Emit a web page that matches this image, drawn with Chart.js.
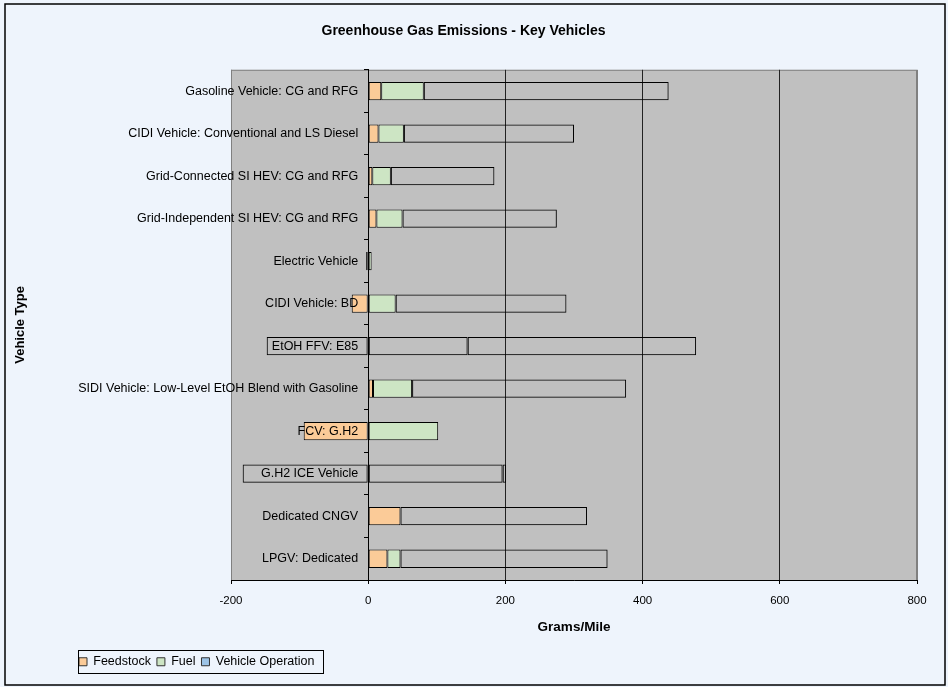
<!DOCTYPE html>
<html>
<head>
<meta charset="utf-8">
<script src="https://cdn.jsdelivr.net/npm/chart.js@4.4.0/dist/chart.umd.min.js"></script>
<style>
	html, body { margin: 0; padding: 0; background: #EEF4FC; }
	#wrap { width: 948px; height: 687px; }
</style>
</head>
<body>
<div id="wrap"><canvas id="ghgBar"></canvas></div>
<script>
// values, grams/mile
const vehicles = [
	"Gasoline Vehicle: CG and RFG",
	"CIDI Vehicle: Conventional and LS Diesel",
	"Grid-Connected SI HEV: CG and RFG",
	"Grid-Independent SI HEV: CG and RFG",
	"Electric Vehicle",
	"CIDI Vehicle: BD",
	"EtOH FFV: E85",
	"SIDI Vehicle: Low-Level EtOH Blend with Gasoline",
	"FCV: G.H2",
	"G.H2 ICE Vehicle",
	"Dedicated CNGV",
	"LPGV: Dedicated"
];
const feedstock = [19, 15, 6, 12, -3, -24, -148, 7, -94, -183, 47, 28];
const fuel = [62, 37, 27, 38, 5, 40, 145, 57, 102, 196, 0, 19];
const vehicleOperation = [357, 248, 151, 225, 0, 249, 333, 312, 0, 5, 272, 302];
// these two rows have no fill in the original
const unfilled = ["EtOH FFV: E85", "G.H2 ICE Vehicle"];
const xMin = -200, xMax = 800, xStep = 200;

const font = "'Liberation Sans', Arial, sans-serif";
const fillFor = (color) => vehicles.map(v => unfilled.includes(v) ? 'rgba(0,0,0,0)' : color);

const frame = {
	id: 'frame',
	beforeDraw(chart) {
		const {ctx, chartArea: a} = chart;
		ctx.save();
		ctx.fillStyle = '#EEF4FC';
		ctx.fillRect(0, 0, chart.width, chart.height);
		ctx.fillStyle = '#C0C0C0';
		ctx.fillRect(a.left, a.top, a.right - a.left, a.bottom - a.top);
		ctx.strokeStyle = '#808080';
		ctx.lineWidth = 1;
		ctx.strokeRect(a.left + 0.5, a.top + 0.5, a.right - a.left - 1, a.bottom - a.top);
		ctx.strokeStyle = '#000';
		ctx.lineWidth = 1.5;
		ctx.strokeRect(5, 4, chart.width - 8, chart.height - 6);
		ctx.restore();
	},
	afterLayout(chart) {
		chart.legend.left = 73;
	},
	afterDatasetsDraw(chart) {
		// category names sit left of the zero line, over the bars
		const {ctx} = chart;
		const y = chart.scales.y;
		const x0 = chart.scales.x.getPixelForValue(0) - 10;
		ctx.save();
		ctx.font = '12.5px ' + font;
		ctx.fillStyle = '#000';
		ctx.textAlign = 'right';
		ctx.textBaseline = 'middle';
		y.ticks.forEach((t, i) => ctx.fillText(y.getLabelForValue(t.value), x0, y.getPixelForTick(i)));
		ctx.restore();
	},
	afterDraw(chart) {
		const lg = chart.legend;
		const {ctx} = chart;
		ctx.save();
		ctx.strokeStyle = '#000';
		ctx.lineWidth = 1;
		ctx.strokeRect(Math.round(lg.left + 5) + 0.5, Math.round(lg.top) + 0.5, Math.round(lg.lineWidths[0] + 4), 23);
		ctx.restore();
	}
};

new Chart(document.getElementById("ghgBar"), {
	type: 'bar',
	data: {
		labels: vehicles,
		datasets: [{
			label: "Feedstock",
			data: feedstock,
			backgroundColor: fillFor('#FBCB98'),
			xAxisID: 'x', yAxisID: 'y'
		}, {
			label: "Fuel",
			data: fuel,
			backgroundColor: fillFor('#CDE5C4'),
			xAxisID: 'x', yAxisID: 'y'
		}, {
			label: "Vehicle Operation",
			data: vehicleOperation,
			backgroundColor: 'rgba(0,0,0,0)',
			xAxisID: 'x', yAxisID: 'y'
		}]
	},
	options: {
		indexAxis: 'y',
		responsive: true,
		maintainAspectRatio: false,
		animation: false,
		datasets: {
			bar: {
				borderColor: '#000',
				borderWidth: 1,
				borderSkipped: false,
				categoryPercentage: 1,
				barPercentage: 0.43
			}
		},
		layout: { padding: { left: 10, right: 31, top: 0, bottom: 9 } },
		scales: {
			x: {
				type: 'linear',
				position: 'bottom',
				stacked: true,
				min: xMin,
				max: xMax,
				ticks: { stepSize: xStep, color: '#000', padding: 9.5, font: { family: font, size: 11.5 } },
				grid: {
					color: c => (c.tick && (c.tick.value === xMin || c.tick.value === xMax)) ? '#808080' : '#222',
					tickColor: '#000',
					tickLength: 4
				},
				border: { color: '#000' },
				title: {
					display: true, text: 'Grams/Mile', color: '#000',
					font: { family: font, size: 13.5, weight: 'bold' },
					padding: { top: 2.5, bottom: 14 }
				}
			},
			y: {
				type: 'category',
				position: { x: 0 },
				stacked: true,
				ticks: { display: false },
				grid: { drawOnChartArea: false, color: '#000', tickLength: 4 },
				border: { color: '#000' }
			},
			yPad: {
				type: 'linear',
				position: 'left',
				ticks: { display: false },
				grid: { display: false },
				border: { display: false },
				title: {
					display: true, text: 'Vehicle Type', color: '#000',
					font: { family: font, size: 13, weight: 'bold' },
					padding: 3
				},
				afterFit(s) { s.width = 221; }
			}
		},
		plugins: {
			title: {
				display: true,
				text: 'Greenhouse Gas Emissions - Key Vehicles',
				color: '#000',
				font: { family: font, size: 14, weight: 'bold' },
				padding: { top: 23, bottom: 30 }
			},
			legend: {
				position: 'bottom',
				align: 'start',
				labels: {
					boxWidth: 8,
					boxHeight: 8,
					padding: 6,
					color: '#000',
					font: { family: font, size: 12.5 },
					generateLabels(chart) {
						const items = Chart.defaults.plugins.legend.labels.generateLabels(chart);
						const fills = ['#FBCB98', '#CDE5C4', '#9CC3E6'];
						items.forEach((it, i) => {
							it.fillStyle = fills[i];
							it.strokeStyle = '#333';
							it.lineWidth = 1;
						});
						return items;
					}
				}
			},
			tooltip: { enabled: false }
		}
	},
	plugins: [frame]
});
</script>
</body>
</html>
